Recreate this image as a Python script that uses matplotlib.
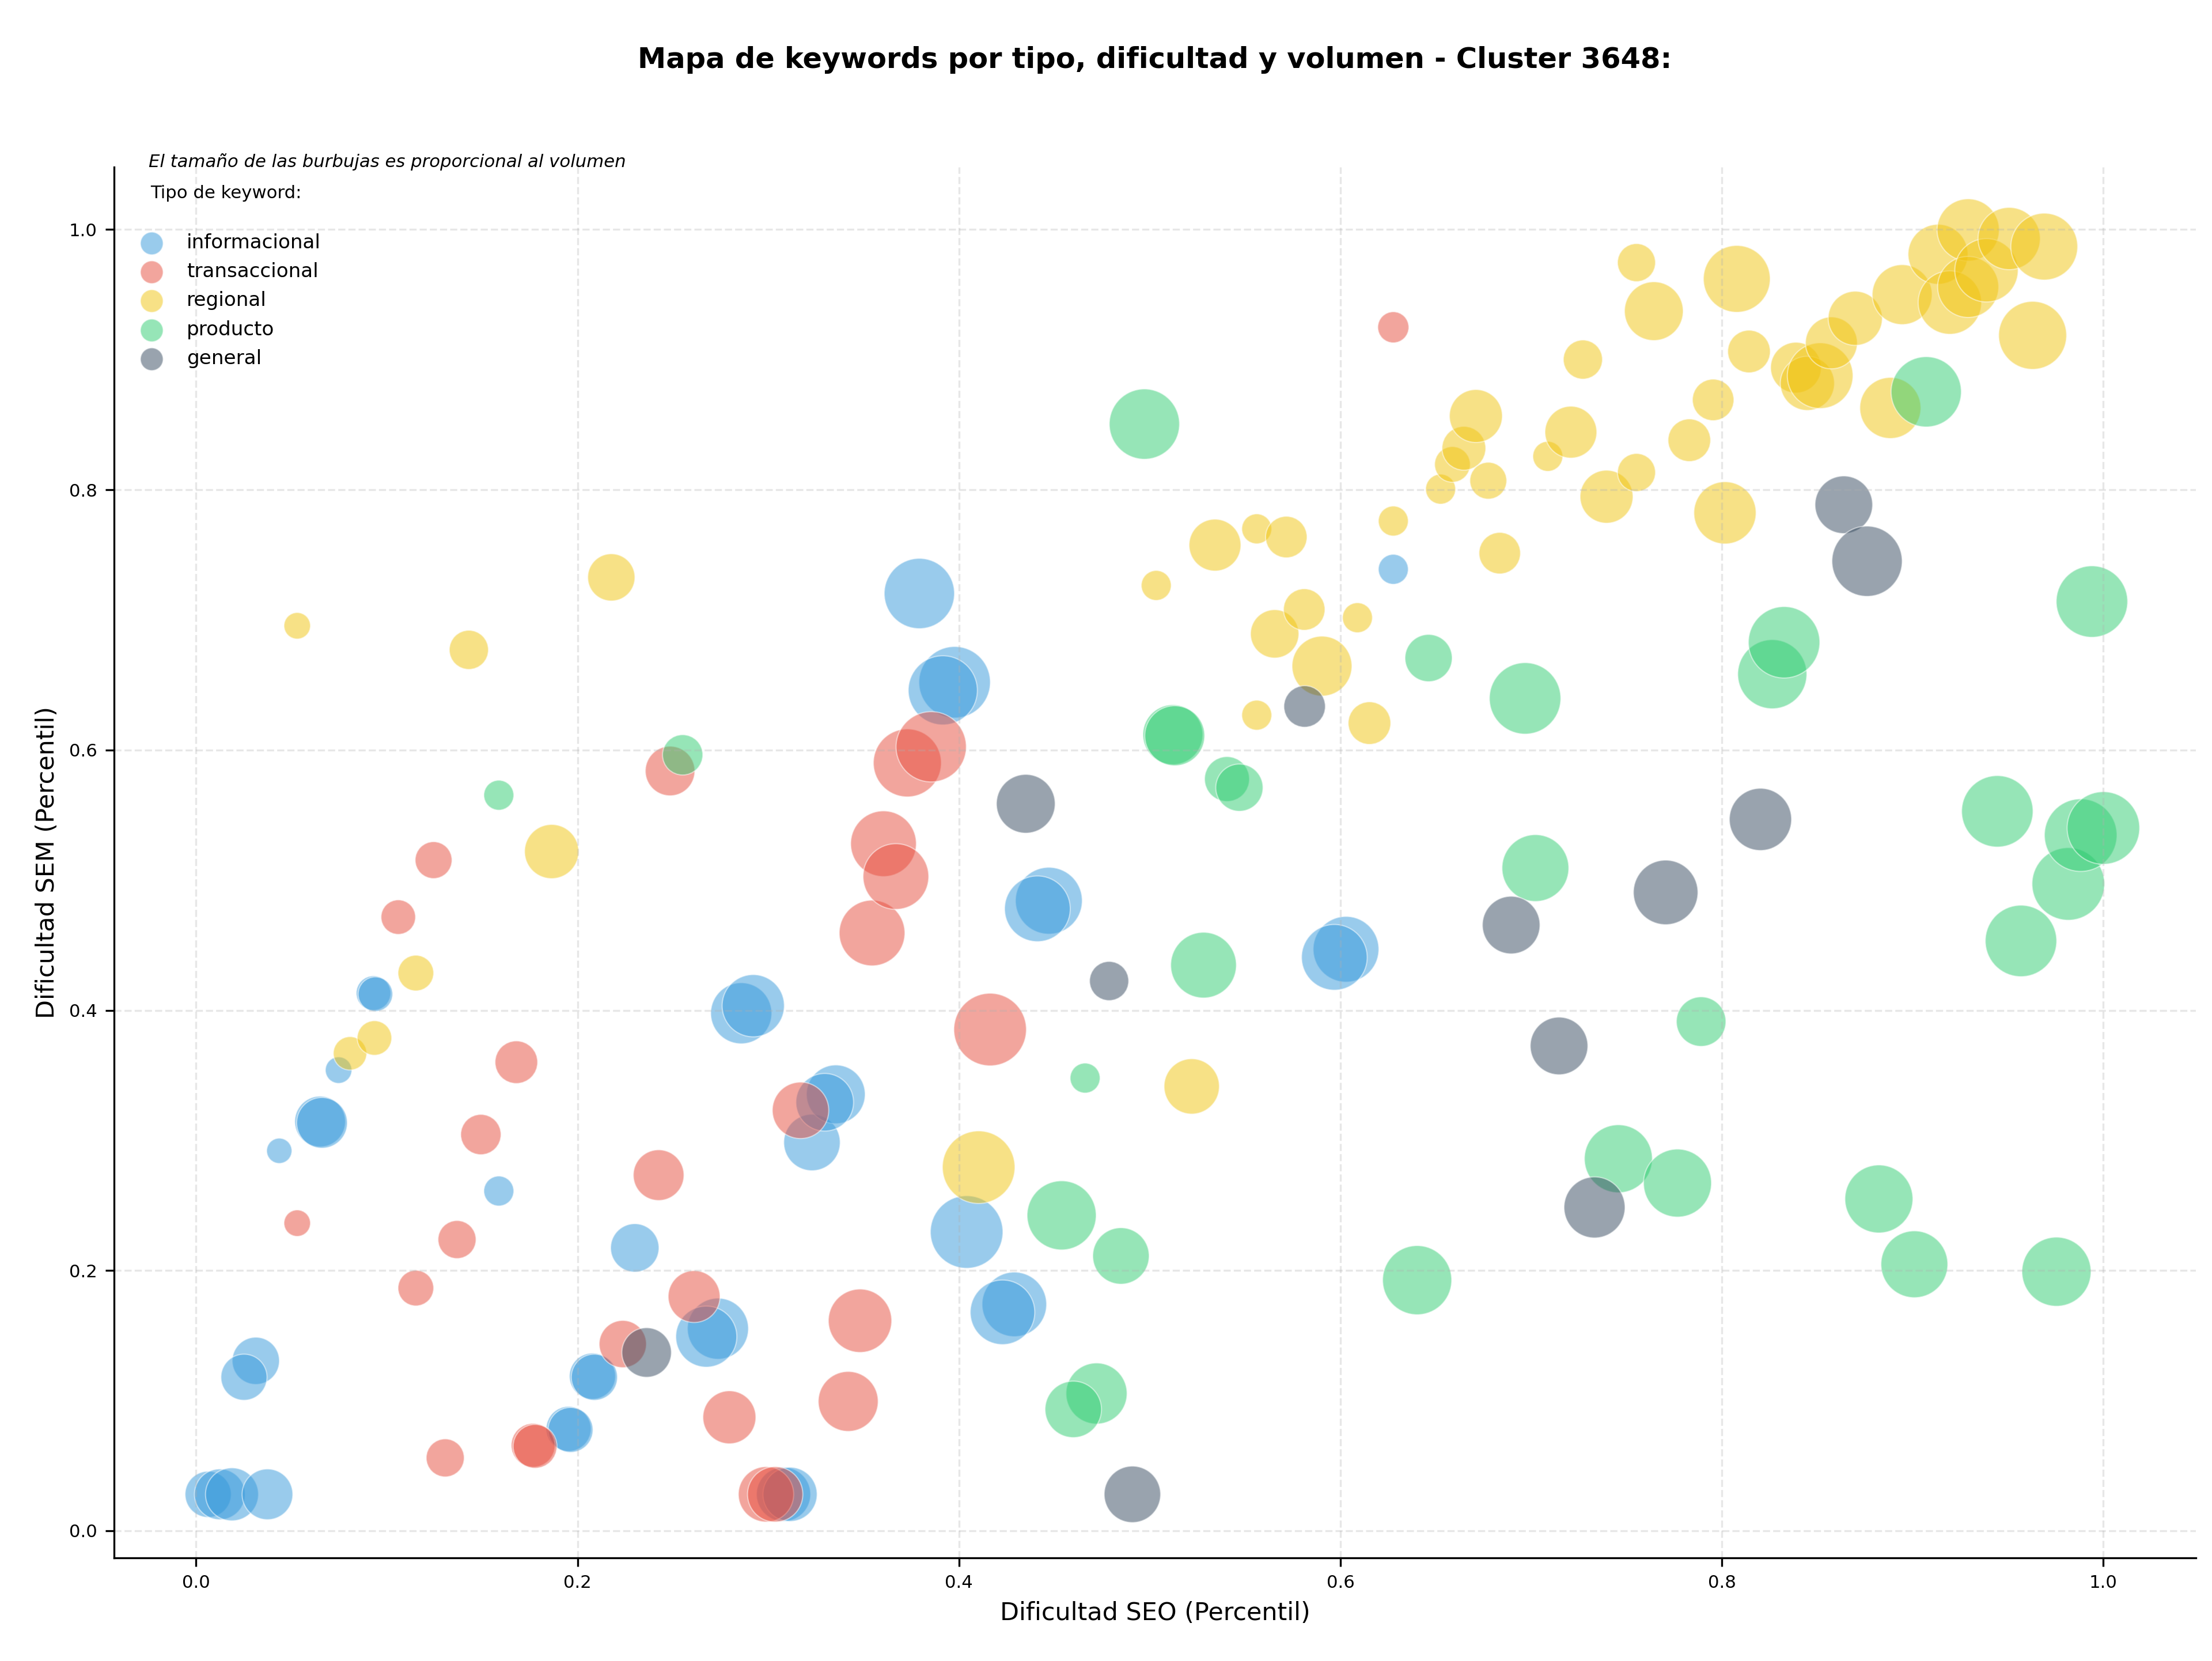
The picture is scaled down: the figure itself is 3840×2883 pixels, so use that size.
import matplotlib.pyplot as plt

# tipos de keyword y colores
tipos = ["informacional", "transaccional", "regional", "producto", "general"]
colores = ["#3498db", "#e74c3c", "#f1c40f", "#2ecc71", "#34495e"]

# informacional
info_seo = [0.0063, 0.0124, 0.0188, 0.0374, 0.0313, 0.0251, 0.0436, 0.0650, 0.0660,
            0.0747, 0.0930, 0.0940, 0.1587, 0.1953, 0.1963, 0.2078, 0.2088, 0.2300,
            0.2736, 0.2675, 0.3080, 0.3114, 0.2858, 0.2921, 0.3229, 0.3354, 0.3296,
            0.3792, 0.3977, 0.3915, 0.4471, 0.4411, 0.4040, 0.4290, 0.4228, 0.6029,
            0.5968, 0.6277]
info_sem = [0.028, 0.028, 0.028, 0.028, 0.1306, 0.118, 0.292, 0.3145, 0.3135,
            0.354, 0.4132, 0.4124, 0.2611, 0.0783, 0.0775, 0.1188, 0.1180, 0.2174,
            0.1553, 0.1492, 0.028, 0.028, 0.3977, 0.4035, 0.2984, 0.3354, 0.3293,
            0.7203, 0.6521, 0.6459, 0.4842, 0.478, 0.2296, 0.174, 0.1679, 0.4469,
            0.4407, 0.7389]
info_vol = [369, 446, 487, 446, 387, 369, 111, 446, 446,
            122, 207, 207, 156, 350, 350, 369, 369, 406,
            647, 647, 509, 509, 647, 672, 553, 599, 576,
            857, 886, 829, 775, 749, 914, 723, 723, 749,
            749, 156]

# transaccional
trans_seo = [0.053, 0.106, 0.1245, 0.1152, 0.1306, 0.1368, 0.1493, 0.1679, 0.1767,
             0.1777, 0.2237, 0.2425, 0.2485, 0.2611, 0.2796, 0.2988, 0.3036, 0.3169,
             0.3419, 0.3481, 0.3544, 0.3604, 0.3669, 0.3729, 0.3854, 0.4163, 0.6277]
trans_sem = [0.2364, 0.4716, 0.5154, 0.1865, 0.056, 0.2238, 0.3045, 0.3601, 0.0657,
             0.0649, 0.1435, 0.2733, 0.5839, 0.18, 0.0872, 0.028, 0.028, 0.3231,
             0.0994, 0.1614, 0.4594, 0.528, 0.5028, 0.5901, 0.6025, 0.3852, 0.9249]
trans_vol = [122, 207, 236, 221, 251, 251, 282, 315, 333,
             333, 387, 446, 426, 467, 487, 531, 531, 553,
             623, 697, 749, 749, 749, 802, 857, 914, 168]

# regional
reg_seo = [0.053, 0.0807, 0.0935, 0.1152, 0.143, 0.1864, 0.2177, 0.4103, 0.522,
           0.5034, 0.5342, 0.5561, 0.5716, 0.5561, 0.5655, 0.581, 0.5903, 0.6089,
           0.6152, 0.6277, 0.6525, 0.6587, 0.6647, 0.671, 0.6775, 0.6835, 0.7087,
           0.7208, 0.7271, 0.7395, 0.7552, 0.7552, 0.7643, 0.7829, 0.7954, 0.8016,
           0.8078, 0.8142, 0.8388, 0.8448, 0.8515, 0.8574, 0.8699, 0.8883, 0.8945,
           0.9133, 0.9195, 0.9291, 0.9291, 0.9387, 0.9506, 0.9629, 0.969]
reg_sem = [0.6955, 0.3669, 0.3787, 0.4286, 0.677, 0.522, 0.7327, 0.2794, 0.3415,
           0.7265, 0.7575, 0.77, 0.7637, 0.6268, 0.6893, 0.708, 0.6645, 0.7017,
           0.6207, 0.776, 0.8005, 0.8195, 0.8319, 0.8567, 0.807, 0.7513, 0.8257,
           0.8443, 0.9001, 0.7947, 0.8133, 0.9746, 0.9373, 0.8381, 0.8691, 0.7823,
           0.9621, 0.9063, 0.8939, 0.8818, 0.8877, 0.9129, 0.9318, 0.8629, 0.95,
           0.981, 0.9439, 0.9997, 0.9559, 0.9687, 0.9931, 0.9187, 0.9869]
reg_vol = [122, 194, 207, 221, 266, 509, 387, 914, 531,
           156, 467, 156, 299, 156, 406, 299, 623, 156,
           315, 156, 156, 221, 333, 487, 236, 299, 156,
           467, 266, 487, 251, 251, 599, 315, 299, 672,
           775, 315, 446, 509, 749, 467, 509, 647, 623,
           623, 697, 672, 647, 697, 672, 802, 775]

# producto
prod_seo = [0.1587, 0.2551, 0.4661, 0.4538, 0.4849, 0.4721, 0.4599, 0.4972, 0.5121,
            0.5131, 0.5405, 0.547, 0.5282, 0.6402, 0.6462, 0.6968, 0.7022, 0.7457,
            0.7767, 0.7891, 0.8264, 0.8326, 0.8823, 0.9009, 0.9071, 0.9444, 0.9568,
            0.9754, 0.9816, 0.9881, 0.994, 1.0]
prod_sem = [0.5653, 0.5963, 0.3479, 0.2424, 0.2112, 0.1055, 0.0933, 0.8505, 0.6118,
            0.6110, 0.5777, 0.5711, 0.4347, 0.1926, 0.6707, 0.6397, 0.5093, 0.2859,
            0.2672, 0.3913, 0.6583, 0.6828, 0.255, 0.2048, 0.8753, 0.5529, 0.4533,
            0.1991, 0.4971, 0.5346, 0.7141, 0.5401]
prod_vol = [156, 282, 156, 829, 553, 647, 553, 857, 623,
            623, 350, 387, 749, 829, 387, 886, 775, 802,
            802, 426, 829, 886, 802, 775, 857, 886, 886,
            829, 914, 914, 886, 914]

# general
gen_seo = [0.2362, 0.435, 0.4787, 0.4909, 0.5812, 0.6895, 0.7146, 0.7332, 0.7705,
           0.8202, 0.8639, 0.8761]
gen_sem = [0.137, 0.5587, 0.4225, 0.028, 0.6335, 0.4655, 0.3726, 0.2485, 0.4906,
           0.5467, 0.7885, 0.7451]
gen_vol = [426, 599, 266, 553, 299, 576, 576, 647, 723, 672, 576, 857]

series = [
    (info_seo, info_sem, info_vol),
    (trans_seo, trans_sem, trans_vol),
    (reg_seo, reg_sem, reg_vol),
    (prod_seo, prod_sem, prod_vol),
    (gen_seo, gen_sem, gen_vol),
]

fig = plt.figure(figsize=(12.8, 9.61), dpi=300)
ax = fig.add_axes([0.0515, 0.0622, 0.9413, 0.8372])

for (xs, ys, vol), color in zip(series, colores):
    ax.scatter(xs, ys, s=vol, c=color, alpha=0.5, edgecolors="white", linewidths=0.5)

# handles de leyenda de tamaño fijo
handles = [ax.scatter([], [], s=90, c=color, alpha=0.5, edgecolors="white",
                      linewidths=0.5, label=t) for t, color in zip(tipos, colores)]

ax.set_xlim(-0.0431, 1.0486)
ax.set_ylim(-0.0207, 1.048)
ax.grid(True, linestyle="--", alpha=0.3)
ax.spines["top"].set_visible(False)
ax.spines["right"].set_visible(False)
ax.tick_params(labelsize=7.4)

ax.set_xlabel("Dificultad SEO (Percentil)", fontsize=10.3)
ax.set_ylabel("Dificultad SEM (Percentil)", fontsize=10.3)

ax.text(0.0166, 1.0, "El tamaño de las burbujas es proporcional al volumen",
        transform=ax.transAxes, fontsize=7.4, style="italic", va="baseline")
ax.text(0.0174, 0.981, "Tipo de keyword:", transform=ax.transAxes, fontsize=7.4,
        va="center")
ax.legend(handles=handles, loc="upper left", bbox_to_anchor=(0.0, 0.965),
          fontsize=8.2, frameon=False)

fig.text(0.522, 1 - 118 / 2883,
         "Mapa de keywords por tipo, dificultad y volumen - Cluster 3648:",
         ha="center", va="baseline", fontsize=11.9, fontweight="bold")

fig.savefig("out.png", dpi=300)
